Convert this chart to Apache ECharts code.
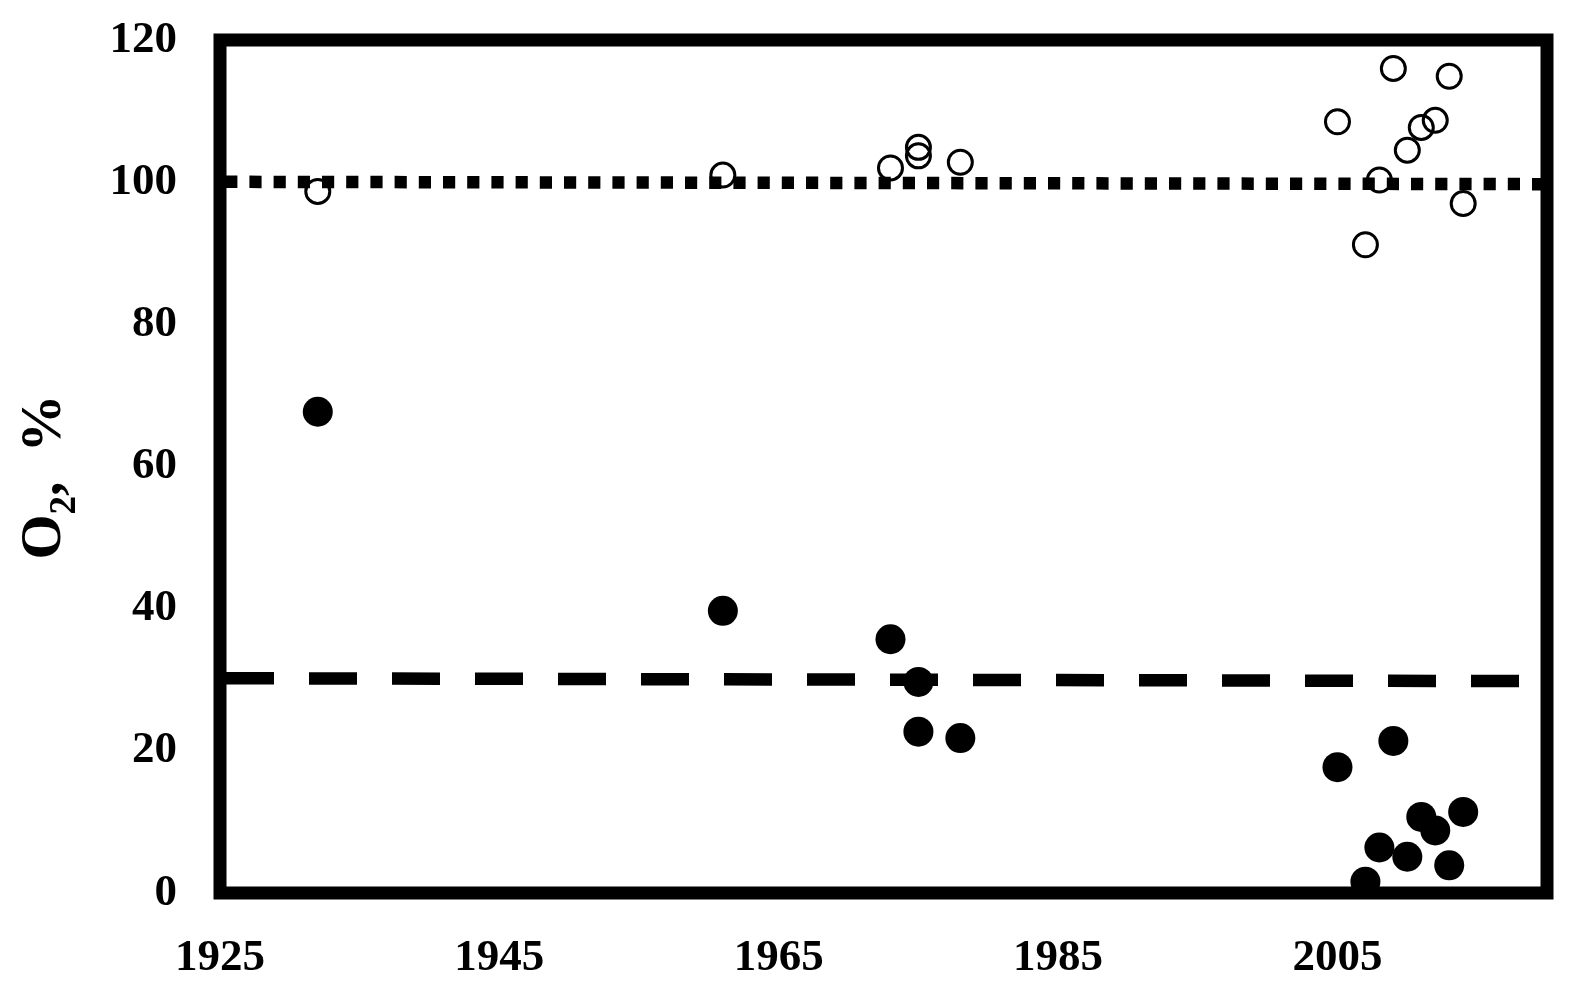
<!DOCTYPE html>
<html>
<head>
<meta charset="utf-8">
<script src="https://cdn.jsdelivr.net/npm/echarts@6/dist/echarts.min.js"></script>
<style>
html,body{margin:0;padding:0;background:#fff;}
#chart{width:1580px;height:993px;}
</style>
</head>
<body>
<div id="chart"></div>
<script>
// Years of observation
var years = [1932, 1961, 1973, 1975, 1975, 1978, 2005, 2007, 2008, 2009, 2010, 2011, 2012, 2013, 2014];
// Open circles (upper series), O2 %
var openValues = [98.7, 101.0, 102.0, 104.9, 103.7, 102.8, 108.5, 91.2, 100.3, 116.0, 104.5, 107.7, 108.7, 114.9, 97.0];
// Filled circles (lower series), O2 %
var filledValues = [67.7, 39.7, 35.7, 29.7, 22.7, 21.8, 17.7, 1.6, 6.4, 21.4, 5.1, 10.7, 8.8, 3.9, 11.4];
// Reference lines (start/end)
var dottedLineX = [1925, 2020];
var dottedLineY = [100.05, 99.72];
var dashedLineX = [1925, 2020];
var dashedLineY = [30.22, 29.8];
// Axis ticks
var xTicks = { min: 1925, max: 2020, interval: 20 };
var yTicks = { min: 0, max: 120, interval: 20 };

function pairs(xs, ys) { return xs.map(function (x, i) { return [x, ys[i]]; }); }

var FONT = "'Liberation Serif', 'Times New Roman', serif";
var chart = echarts.init(document.getElementById('chart'));
chart.setOption({
  animation: false,
  backgroundColor: '#fff',
  grid: { left: 220, top: 40, right: 33, bottom: 100, show: true, borderColor: '#000', borderWidth: 13 },
  xAxis: {
    type: 'value', min: xTicks.min, max: xTicks.max, interval: xTicks.interval,
    axisLine: { show: false }, axisTick: { show: false }, splitLine: { show: false },
    axisLabel: { showMaxLabel: false, margin: 43, color: '#000', fontFamily: FONT, fontWeight: 'bold', fontSize: 45,
      formatter: function (v) { return String(v); } }
  },
  yAxis: {
    type: 'value', min: yTicks.min, max: yTicks.max, interval: yTicks.interval,
    axisLine: { show: false }, axisTick: { show: false }, splitLine: { show: false },
    axisLabel: { margin: 43, color: '#000', fontFamily: FONT, fontWeight: 'bold', fontSize: 45, padding: [13, 0, 0, 0] }
  },
  graphic: [{
    type: 'text', x: 50, y: 477, rotation: Math.PI / 2,
    style: {
      text: '{a|O}{b|2}{a|,  %}',
      align: 'center', verticalAlign: 'middle',
      rich: {
        a: { fontFamily: FONT, fontWeight: 'bold', fontSize: 58, fill: '#000', verticalAlign: 'bottom', padding: [0, 0, 10, 0] },
        b: { fontFamily: FONT, fontWeight: 'bold', fontSize: 37, fill: '#000', verticalAlign: 'bottom' }
      }
    }
  }],
  series: [
    {
      type: 'line', data: pairs(dottedLineX, dottedLineY), showSymbol: false, silent: true,
      lineStyle: { color: '#000', width: 12.5, type: [12.2, 12], dashOffset: 19, cap: 'butt' }
    },
    {
      type: 'line', data: pairs(dashedLineX, dashedLineY), showSymbol: false, silent: true,
      lineStyle: { color: '#000', width: 12.5, type: [48, 35], dashOffset: 77, cap: 'butt' }
    },
    {
      type: 'scatter', data: pairs(years, filledValues), symbol: 'circle', symbolSize: 30, clip: false,
      itemStyle: { color: '#000', opacity: 1 }
    },
    {
      type: 'scatter', data: pairs(years, openValues), symbol: 'circle', symbolSize: 24, clip: false,
      itemStyle: { color: 'rgba(0,0,0,0)', borderColor: '#000', borderWidth: 3, opacity: 1 }
    }
  ]
});
</script>
</body>
</html>
